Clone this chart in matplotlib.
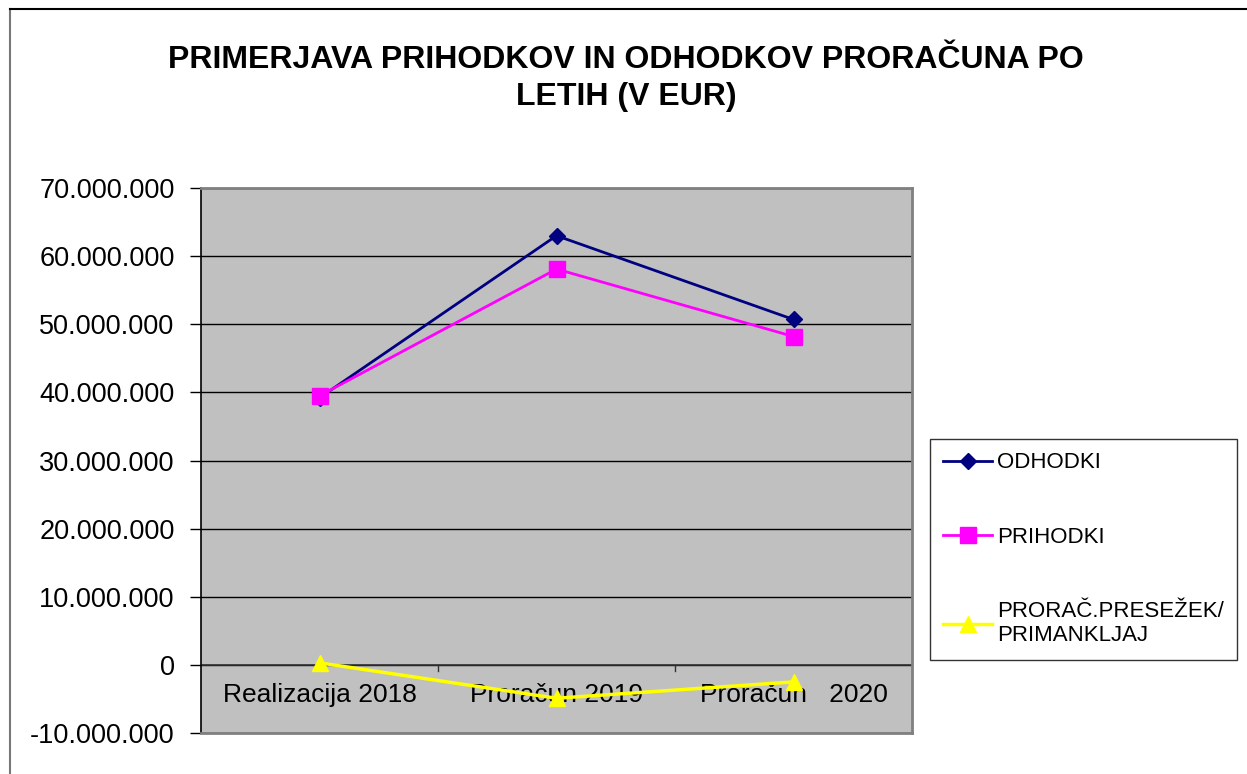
import matplotlib.pyplot as plt
import matplotlib.ticker as mticker
from matplotlib.lines import Line2D

# data
categories = ['Realizacija 2018', 'Proračun 2019', 'Proračun   2020']
odhodki = [39.2e6, 63.0e6, 50.7e6]
prihodki = [39.5e6, 58.1e6, 48.2e6]
presezek = [0.3e6, -4.9e6, -2.5e6]
series_names = ['ODHODKI', 'PRIHODKI', 'PRORAČ.PRESEŽEK/\nPRIMANKLJAJ']

plt.rcParams['font.family'] = ['Liberation Sans', 'DejaVu Sans']

W, H = 1247, 774
fig = plt.figure(figsize=(W / 100, H / 100), dpi=100)

# outer chart frame (only top and left edges visible)
fig.add_artist(Line2D([10 / W, 10 / W], [0, 1 - 9 / H], color='#777777', lw=1.5))
fig.add_artist(Line2D([10 / W, 1], [1 - 9 / H, 1 - 9 / H], color='black', lw=1.5))

ax = fig.add_axes([201 / W, 1 - 733 / H, (912 - 201) / W, (733 - 188) / H])
ax.set_facecolor('#c0c0c0')

x = list(range(len(categories)))
ax.plot(x, odhodki, color='#000080', lw=2, marker='D', ms=8, label=series_names[0], zorder=4)
ax.plot(x, prihodki, color='#ff00ff', lw=2, marker='s', ms=11, label=series_names[1], zorder=4)
ax.plot(x, presezek, color='#ffff00', lw=2.5, marker='^', ms=11, label=series_names[2], zorder=4)

ax.set_xlim(-0.5, 2.5)
ax.set_ylim(-10e6, 70e6)
ax.set_yticks(range(-10000000, 70000001, 10000000))
ax.yaxis.set_major_formatter(mticker.FuncFormatter(lambda v, p: f'{v:,.0f}'.replace(',', '.')))
ax.tick_params(axis='y', labelsize=19.5, length=8, width=1, direction='out', pad=11)
ax.grid(axis='y', color='black', lw=1)
ax.set_axisbelow(True)

# x axis crosses at zero, labels sit inside the plot area
ax.set_xticks([])
ax.axhline(0, color='#333333', lw=1.2, zorder=2)
for b in [0.5, 1.5]:
    ax.plot([b, b], [0, -0.9e6], color='#333333', lw=1, zorder=2)
for i, c in enumerate(categories):
    ax.text(i, -4.4e6, c, ha='center', va='center', fontsize=19, zorder=3)

for s in ['top', 'right', 'bottom']:
    ax.spines[s].set_color('#808080')
    ax.spines[s].set_linewidth(2)
ax.spines['left'].set_color('black')
ax.spines['left'].set_linewidth(1.2)

fig.text(626 / W, 1 - 60 / H, 'PRIMERJAVA PRIHODKOV IN ODHODKOV PRORAČUNA PO', ha='center',
         va='center', fontsize=23, fontweight='bold')
fig.text(626 / W, 1 - 97 / H, 'LETIH (V EUR)', ha='center', va='center', fontsize=23, fontweight='bold')

leg = fig.legend(loc='upper left', bbox_to_anchor=(930 / W, 1 - 439 / H), fontsize=16,
                 frameon=True, fancybox=False, edgecolor='black', labelspacing=2.4,
                 handlelength=2.2, handletextpad=0.2, borderpad=0.6, borderaxespad=0)
leg.get_frame().set_linewidth(1)

fig.savefig('out.png', dpi=100)
